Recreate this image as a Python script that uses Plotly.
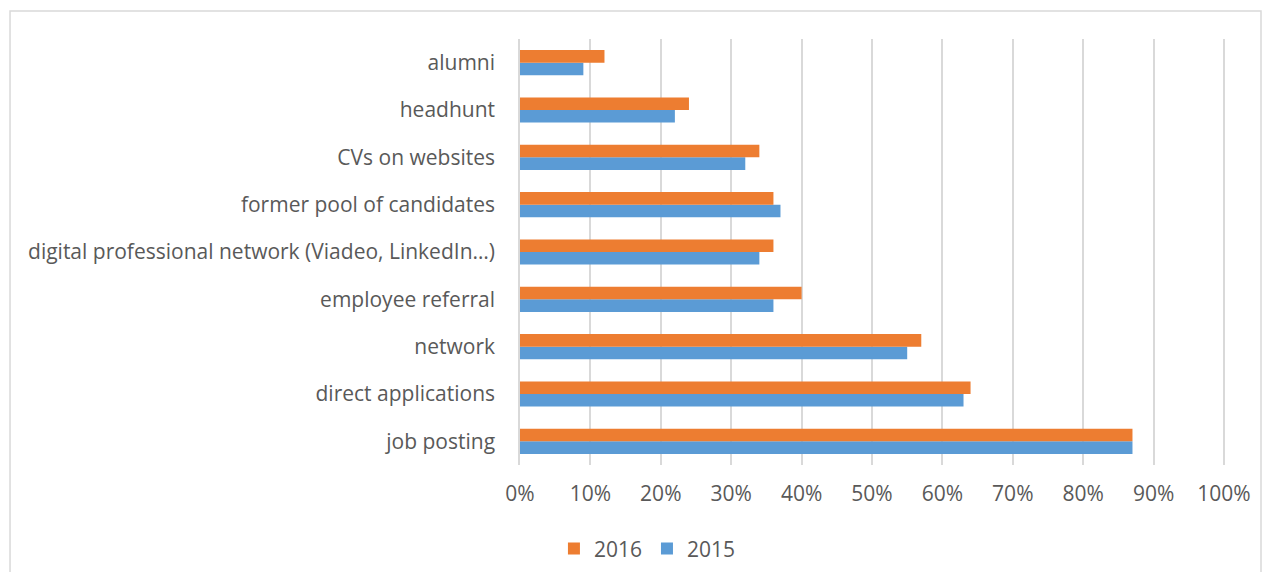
import plotly.graph_objects as go

categories = [
    "job posting",
    "direct applications",
    "network",
    "employee referral",
    "digital professional network (Viadeo, LinkedIn…)",
    "former pool of candidates",
    "CVs on websites",
    "headhunt",
    "alumni",
]
values_2015 = [0.87, 0.63, 0.55, 0.36, 0.34, 0.37, 0.32, 0.22, 0.09]
values_2016 = [0.87, 0.64, 0.57, 0.40, 0.36, 0.36, 0.34, 0.24, 0.12]

FONT = "Open Sans"
GREY = "#595959"

fig = go.Figure()
fig.add_trace(go.Bar(
    y=categories, x=values_2015, name="2015", orientation="h",
    marker=dict(color="#5b9bd5", line=dict(width=0)), legendrank=2,
))
fig.add_trace(go.Bar(
    y=categories, x=values_2016, name="2016", orientation="h",
    marker=dict(color="#ed7d31", line=dict(width=0)), legendrank=1,
))

# plot area is 708px wide; extend the range a little so the 100% gridline is drawn
fig.update_layout(
    width=1254, height=564,
    barmode="group", bargap=0.47, bargroupgap=0,
    plot_bgcolor="white", paper_bgcolor="white",
    margin=dict(l=512, r=34, t=31, b=107, autoexpand=False),
    font=dict(family=FONT, color=GREY, size=20),
    xaxis=dict(
        range=[0, 1.00568], dtick=0.1, tickformat=".0%",
        showgrid=True, gridcolor="#d9d9d9", gridwidth=1.5,
        zeroline=False, showline=False, ticks="",
        tickfont=dict(size=21, color=GREY), ticklabelstandoff=14,
    ),
    yaxis=dict(
        type="category", showgrid=False, zeroline=False,
        showline=True, linecolor="#d9d9d9", linewidth=1.5,
        ticks="", ticklabelstandoff=19,
        tickfont=dict(size=21, color=GREY),
    ),
    legend=dict(
        orientation="h", x=0.18, xanchor="center", y=-0.197, yanchor="middle",
        font=dict(size=21, color=GREY), itemwidth=30,
    ),
    shapes=[dict(
        type="rect", xref="paper", yref="paper",
        x0=-0.7203, x1=1.0466, y0=-0.3, y1=1.0657,
        line=dict(color="#d9d9d9", width=1.5), layer="below",
    )],
)

fig.write_html("out.html")
